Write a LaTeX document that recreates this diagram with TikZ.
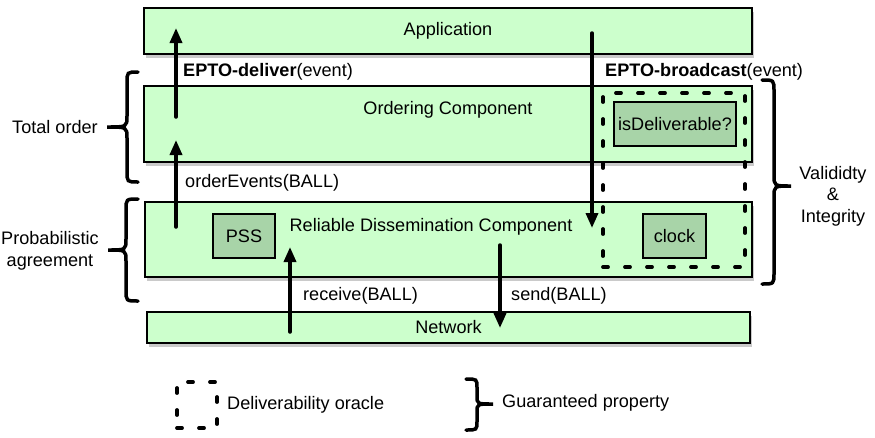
\documentclass[tikz,border=0pt]{standalone}
\usepackage{fontspec}
\setmainfont{Liberation Sans}
\usepackage{xcolor}
\usetikzlibrary{arrows.meta,shadows}
\definecolor{layergreen}{RGB}{204,255,204}
\definecolor{partgreen}{RGB}{168,212,168}

\begin{document}
\begin{tikzpicture}[x=1pt, y=-1pt,
      every node/.style={font=\fontsize{18.1}{21.5}\selectfont, align=center},
      layer/.style={draw, rectangle, fill=layergreen, line width=1.3pt,
        drop shadow={shadow xshift=2pt, shadow yshift=-4pt, fill=black!60, opacity=0.35}},
      part/.style={draw, rectangle, fill=partgreen, line width=1.3pt},
      oracle/.style={draw, rectangle, line width=3.8pt, line cap=round, dash pattern=on 5pt off 17pt},
      flow/.style={line width=3.5pt, line cap=round, -{Triangle[width=12pt,length=15pt]}},
      prop/.style={line width=3.5pt, line cap=round},
      call/.style={anchor=west, inner sep=0pt}
    ]
    \useasboundingbox (0,0) rectangle (875,437);

    \node[layer, minimum width=608pt, minimum height=46pt] (app) at (448,31) {Application};
    \node[layer, minimum width=608pt, minimum height=76pt] (order) at (448,124) {};
    \node[layer, minimum width=607pt, minimum height=75pt] (rdc) at (448.5,239.5) {};
    \node[layer, minimum width=603pt, minimum height=31pt] (net) at (448.5,327.5) {Network};

    \node (ordertext) at (448,110) {Ordering Component};
    \node (rdctext) at (431,227) {Reliable Dissemination Component};

    \node[oracle, minimum width=142pt, minimum height=174pt] (orc) at (674,180) {};
    \node[part, minimum width=122pt, minimum height=44pt] (isdel) at (675,124) {isDeliverable?};
    \node[part, minimum width=63pt, minimum height=44pt] (clock) at (674.5,236) {clock};
    \node[part, minimum width=62pt, minimum height=44pt] (pss) at (244,236) {PSS};

    \node[call] (deliver) at (183,72) {\textbf{EPTO-deliver}(event)};
    \node[call] (bcast) at (605,72) {\textbf{EPTO-broadcast}(event)};
    \node[call] (orderev) at (185,183) {orderEvents(BALL)};
    \node[call] (recv) at (303,296) {receive(BALL)};
    \node[call] (send) at (511,296) {send(BALL)};

    \coordinate (up1a) at (176,227);
    \coordinate (up1b) at (176,140);
    \coordinate (up2a) at (176,117);
    \coordinate (up2b) at (176,28);
    \coordinate (downa) at (592,33);
    \coordinate (downb) at (592,228);
    \coordinate (recva) at (290,332);
    \coordinate (recvb) at (290,247);
    \coordinate (senda) at (500,245);
    \coordinate (sendb) at (500,328);

    \draw[flow] (up1a) -- (up1b);
    \draw[flow] (up2a) -- (up2b);
    \draw[flow] (downa) -- (downb);
    \draw[flow] (recva) -- (recvb);
    \draw[flow] (senda) -- (sendb);

    \node (total) at (55,127) {Total order};
    \node (prob) at (50,251) {Probabilistic\\agreement};
    \node (valid) at (833,196) {Valididty\\\&\\Integrity};

    \draw[prop] (138,72) .. controls (127,72) .. (127,83) -- (127,116)
      .. controls (127,127) .. (107,127) .. controls (127,127) .. (127,138)
      -- (127,171) .. controls (127,182) .. (138,182);
    \draw[prop] (138,199) .. controls (126,199) .. (126,210) -- (126,239)
      .. controls (126,250) .. (108,250) .. controls (126,250) .. (126,261)
      -- (126,290) .. controls (126,301) .. (138,301);
    \draw[prop] (762,80) .. controls (774,80) .. (774,91) -- (774,175)
      .. controls (774,186) .. (791,186) .. controls (774,186) .. (774,197)
      -- (774,273) .. controls (774,284) .. (762,284);

    \node[oracle, minimum width=40pt, minimum height=46pt] (legorc) at (197,405) {};
    \node[call] (legorctext) at (227,405) {Deliverability oracle};
    \draw[prop] (466,379) .. controls (477,379) .. (477,388) -- (477,396)
      .. controls (477,404) .. (493,404) .. controls (477,404) .. (477,412)
      -- (477,421) .. controls (477,430) .. (466,430);
    \node[call] (legprop) at (502,403) {Guaranteed property};
\end{tikzpicture}
\end{document}
